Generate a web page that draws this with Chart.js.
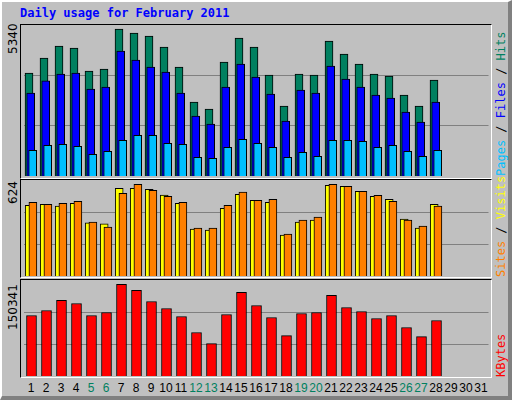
<!DOCTYPE html>
<html>
<head>
<meta charset="utf-8">
<script src="https://cdn.jsdelivr.net/npm/chart.js@4"></script>
<style>
  body { margin: 0; }
  #wrap { position: relative; width: 512px; height: 400px; background: #c0c0c0; overflow: hidden; }
  #outer { position: absolute; left: 0; top: 0; width: 506px; height: 394px;
    border-left: 2px solid #fff; border-top: 2px solid #fff;
    border-right: 4px solid #808080; border-bottom: 4px solid #808080; }
  .frame { position: absolute; left: 20px; width: 470px;
    border-left: 1px solid #000; border-top: 1px solid #000;
    border-right: 1px solid #fff; border-bottom: 1px solid #fff; }
  canvas { position: absolute; }
  .title { position: absolute; left: 20px; top: 6px; color: #0000ff; font: bold 12px "DejaVu Sans Mono", monospace; }
  .ymax { position: absolute; font: 12px "DejaVu Sans", sans-serif; transform-origin: left top; transform: rotate(-90deg); white-space: nowrap; }
  .side { position: absolute; font: 12px "DejaVu Sans Mono", monospace; transform-origin: left top; transform: rotate(-90deg); white-space: nowrap; }
  .day { position: absolute; top: 381px; width: 15px; text-align: center; font: 12px "Liberation Sans", sans-serif; }
</style>
</head>
<body>
<div id="wrap">
  <div id="outer"></div>
  <div class="title">Daily usage for February 2011</div>
  <div class="frame" style="top:24px;height:153px"></div>
  <div class="frame" style="top:179px;height:97px"></div>
  <div class="frame" style="top:279px;height:97px"></div>
  <canvas id="c1" style="left:20px;top:25px" width="471" height="151"></canvas>
  <canvas id="c2" style="left:20px;top:181px" width="471" height="95"></canvas>
  <canvas id="c3" style="left:20px;top:281px" width="471" height="95"></canvas>
  <div class="ymax" style="left:6px;top:54px">5340</div>
  <div class="ymax" style="left:6px;top:204px">624</div>
  <div class="ymax" style="left:6px;top:330px">150341</div>
  <div class="side" style="left:494px;top:176px"><span style="color:#00c0ff">Pages</span> / <span style="color:#0000ff">Files</span> / <span style="color:#008060">Hits</span></div>
  <div class="side" style="left:494px;top:277px"><span style="color:#ff8000">Sites</span> / <span style="color:#ffff00">Visits</span></div>
  <div class="side" style="left:494px;top:377px"><span style="color:#ff0000">KBytes</span></div>
  <div id="days"></div>
</div>
<script>
const days = Array.from({ length: 31 }, (_, i) => i + 1);
const weekendDays = [5, 6, 12, 13, 19, 20, 26, 27];

const hits = [3738, 4284, 4721, 4648, 3811, 3884, 5340, 5194, 5085, 4685, 3956, 2683, 2428, 4139,
  5012, 4685, 3665, 2537, 3702, 3665, 4903, 4430, 4066, 3702, 3629, 2938, 2537, 3484];
const files = [3010, 3458, 3702, 3738, 3156, 3229, 4539, 4211, 3957, 3775, 3010, 2173, 1882, 3229,
  4066, 3593, 2974, 1991, 3119, 3010, 3993, 3520, 3229, 2938, 2828, 2319, 1955, 2683];
const pages = [935, 1117, 1154, 1081, 790, 899, 1299, 1481, 1481, 1190, 1154, 681, 644, 1045,
  1336, 1190, 1045, 681, 863, 717, 1299, 1299, 1263, 1045, 1117, 899, 717, 935];
const visits = [481, 488, 475, 495, 361, 354, 597, 597, 590, 550, 495, 319, 312, 461,
  556, 515, 501, 278, 366, 380, 617, 610, 576, 542, 522, 387, 326, 488];
const sites = [501, 488, 495, 508, 367, 332, 563, 624, 583, 542, 501, 326, 326, 481,
  570, 515, 522, 285, 380, 400, 624, 610, 576, 549, 508, 380, 339, 475];
const kbytes = [99315, 107546, 124006, 119068, 99315, 104253, 150341, 140465, 122360, 110838, 97669, 71331, 53224, 100961,
  137172, 115776, 96023, 66393, 102607, 104253, 132235, 112484, 105899, 94377, 99315, 79561, 64747, 91085];

const dayBox = document.getElementById('days');
days.forEach(d => {
  const el = document.createElement('div');
  el.className = 'day';
  el.style.left = (23.5 + (d - 1) * 15) + 'px';
  el.style.color = weekendDays.includes(d) ? '#008060' : '#000';
  el.textContent = d;
  dayBox.appendChild(el);
});

function series(values, dx, color, width, order) {
  return {
    data: values.map((v, i) => ({ x: i + 1 + dx / 15, y: v })),
    backgroundColor: color,
    borderColor: '#000',
    borderWidth: 1,
    borderSkipped: 'bottom',
    barThickness: width,
    grouped: false,
    order
  };
}

function panel(id, datasets, max) {
  new Chart(document.getElementById(id), {
    type: 'bar',
    data: { datasets },
    options: {
      responsive: false,
      animation: false,
      layout: { padding: { left: 3.5, right: 2.5, top: 0, bottom: 0 } },
      plugins: { legend: { display: false }, tooltip: { enabled: false } },
      scales: {
        x: { type: 'linear', min: 0.5, max: 31.5, offset: false, display: false },
        y: {
          min: 0, max,
          border: { display: false },
          ticks: { display: false },
          grid: { color: '#808080', lineWidth: 1, drawTicks: false },
          afterBuildTicks: s => { s.ticks = [{ value: max / 3 }, { value: max * 2 / 3 }]; }
        }
      }
    }
  });
}

panel('c1', [
  series(hits, -2, '#008060', 8, 3),
  series(files, -0.3, '#0000ff', 8, 2),
  series(pages, 1.7, '#00c0ff', 8, 1)
], 5485);
panel('c2', [
  series(visits, -1.8, '#ffff00', 8, 2),
  series(sites, 1.9, '#ff8000', 8, 1)
], 646);
panel('c3', [
  series(kbytes, 0.5, '#ff0000', 10, 1)
], 155940);
</script>
</body>
</html>
